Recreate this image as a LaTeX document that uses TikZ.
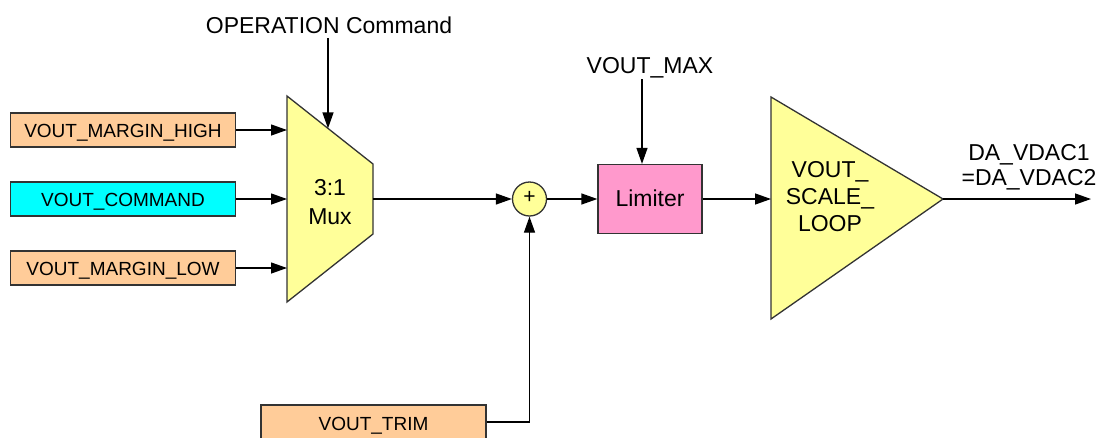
\documentclass[tikz,border=0pt]{standalone}
\usepackage{fontspec}
\setmainfont{Liberation Sans}
\usetikzlibrary{arrows.meta}
\definecolor{peach}{HTML}{FFCC99}
\definecolor{cyanbox}{HTML}{00FFFF}
\definecolor{yel}{HTML}{FFFF99}
\definecolor{pinkbox}{HTML}{FF99CC}
\definecolor{edge}{HTML}{333333}
\begin{document}
\begin{tikzpicture}[x=1pt,y=-1pt,
  every node/.style={font=\fontsize{19pt}{22pt}\selectfont, inner sep=0pt},
  big/.style={font=\fontsize{23pt}{#1}\selectfont, align=center},
  big/.default=27pt,
  inbox/.style={draw=edge, line width=1.3pt, minimum width=225pt, minimum height=34pt, anchor=center},
  conn/.style={line width=1.3pt, -{Triangle[length=16pt,width=11pt]}},
  blk/.style={draw=edge, line width=1.3pt, fill=yel}]
\useasboundingbox (0,0) rectangle (1098,437);
% input boxes
\node[inbox, fill=peach] (mh) at (123,130) {};
\node[anchor=base] at (123,137) {VOUT\_MARGIN\_HIGH};
\node[inbox, fill=cyanbox] (mc) at (123,199) {};
\node[anchor=base] at (123,206) {VOUT\_COMMAND};
\node[inbox, fill=peach] (ml) at (123,268) {};
\node[anchor=base] at (123,275) {VOUT\_MARGIN\_LOW};
\node[inbox, fill=peach, minimum height=40pt] (trim) at (373.5,425) {};
\node[anchor=base] (trimtxt) at (373.5,430) {VOUT\_TRIM};
% mux
\coordinate (mTL) at (287,96);
\coordinate (mBL) at (287,302);
\coordinate (mTR) at (373,164);
\coordinate (mBR) at (373,234);
\draw[blk] (mTL) -- (mTR) -- (mBR) -- (mBL) -- cycle;
\node[big=29pt, anchor=base] (mux) at (330,224) {3:1\\Mux};
\coordinate (mOut) at (373,199);
\coordinate (mSel) at (328,128.4);
\node[big, anchor=base] (op) at (329,33) {OPERATION Command};
\coordinate (opBot) at (328,38);
% sum
\node[draw=edge, line width=1.3pt, fill=yel, circle, minimum size=34pt] (sum) at (529.5,199) {};
\node[font=\fontsize{21pt}{22pt}\selectfont] at (529.5,197.5) {+};
% limiter
\node[draw=edge, line width=1.3pt, fill=pinkbox, minimum width=104pt, minimum height=69pt] (lim) at (650,199) {};
\node[big, anchor=base] at (650,206) {Limiter};
\node[big, anchor=base] (vmax) at (650,73) {VOUT\_MAX};
\coordinate (vmaxTop) at (642,79);
% triangle
\coordinate (tTop) at (771,97);
\coordinate (tBot) at (771,319);
\coordinate (tApex) at (943,199);
\draw[blk] (tTop) -- (tApex) -- (tBot) -- cycle;
\node[big=27pt, anchor=base] (scale) at (830,231) {VOUT\_\\SCALE\_\\LOOP};
\coordinate (outEnd) at (1091,199);
\node[big=25pt, anchor=base] (da) at (1029,185) {DA\_VDAC1\\=DA\_VDAC2};
% connectors
\draw[conn] (mh.east) -- (mh.east -| mTL);
\draw[conn] (mc.east) -- (mc.east -| mTL);
\draw[conn] (ml.east) -- (ml.east -| mTL);
\draw[conn] (opBot) -- (mSel);
\draw[conn] (mOut) -- (sum.west);
\draw[conn] (sum.east) -- (lim.west);
\draw[conn] (trim.east |- 0,422) -| (sum.south);
\draw[conn] (vmaxTop) -- (vmaxTop |- lim.north);
\draw[conn] (lim.east) -- (lim.east -| tTop);
\draw[conn] (tApex) -- (outEnd);
\end{tikzpicture}
\end{document}
